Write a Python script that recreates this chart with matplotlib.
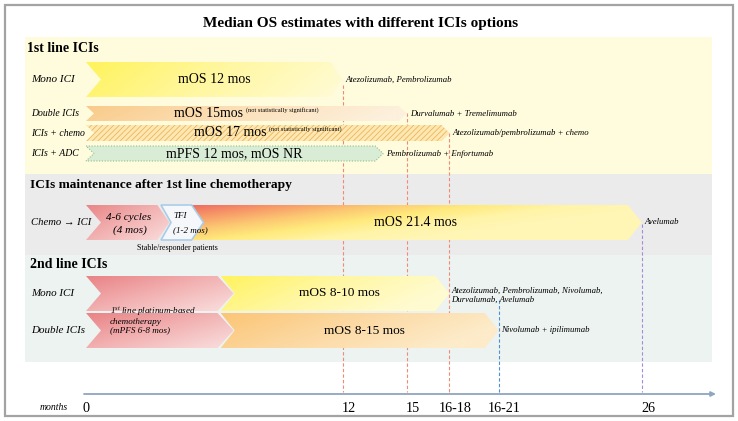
import numpy as np
import matplotlib
matplotlib.use("Agg")
import matplotlib.pyplot as plt
from matplotlib.patches import Rectangle, PathPatch
from matplotlib.path import Path
from matplotlib.colors import LinearSegmentedColormap
from matplotlib.offsetbox import TextArea, HPacker, AnnotationBbox

plt.rcParams['font.family'] = ['Liberation Serif', 'DejaVu Serif']
plt.rcParams['mathtext.fontset'] = 'custom'
plt.rcParams['mathtext.rm'] = 'Liberation Serif'
plt.rcParams['mathtext.it'] = 'Liberation Serif:italic'
plt.rcParams['hatch.linewidth'] = 0.6

# ---------------- data ----------------
title = "Median OS estimates with different ICIs options"

first_line_rows = ["Mono ICI", "Double ICIs", "ICIs + chemo", "ICIs + ADC"]
first_line_end = [12, 15, 17, 13.9]          # months
first_line_main = ["mOS 12 mos", "mOS 15mos", "mOS 17 mos", "mPFS 12 mos, mOS NR"]
first_line_note = ["", "(not statistically significant)", "(not statistically significant)", ""]
first_line_drugs = ["Atezolizumab, Pembrolizumab", "Durvalumab + Tremelimumab",
                    "Atezolizumab/pembrolizumab + chemo", "Pembrolizumab + Enfortumab"]

maint_label = "Chemo \u2192 ICI"
maint_chemo_end = 3.9      # months (4-6 cycles)
maint_tfi_end = 5.5        # months (TFI 1-2 mos)
maint_os_start = 4.8
maint_os_end = 26
maint_main = "mOS 21.4 mos"
maint_drug = "Avelumab"

second_line_rows = ["Mono ICI", "Double ICIs"]
second_chemo_end = 6.9     # months (mPFS 6-8 mos)
second_ici_start = 6.3
second_end = [17, 19.3]
second_main = ["mOS 8-10 mos", "mOS 8-15 mos"]
second_drugs = ["Atezolizumab, Pembrolizumab, Nivolumab,\nDurvalumab, Avelumab", "Nivolumab + ipilimumab"]

tick_pos = [0, 12, 15, 17, 19.3, 26]
tick_labels = ["0", "12", "15", "16-18", "16-21", "26"]

# ---------------- layout ----------------
W, H = 738, 421
PX0, PPM = 86.0, 21.38   # pixel of month 0, pixels per month


def mx(px):
    """layout pixel -> month units"""
    return (px - PX0) / PPM


fig = plt.figure(figsize=(W / 100, H / 100), dpi=100)
ax = fig.add_axes([0, 0, 1, 1])
ax.set_axis_off()


def chev_path(x0, x1, y0, y1, notch=8, tip=8):
    ym = (y0 + y1) / 2
    n, t = notch / PPM, tip / PPM
    verts = [(x0, y0), (x1 - t, y0), (x1, ym), (x1 - t, y1), (x0, y1), (x0 + n, ym), (x0, y0)]
    return Path(verts, closed=True)


def grad_chev(x0, x1, y0, y1, colors, wx=1.0, wy=0.0, notch=8, tip=8, z=2):
    path = chev_path(x0, x1, y0, y1, notch, tip)
    patch = PathPatch(path, fc='none', ec='none', zorder=z)
    ax.add_patch(patch)
    cmap = LinearSegmentedColormap.from_list('g', colors)
    xs = np.linspace(0, 1, 200)
    ys = np.linspace(0, 1, 50)
    XX, YY = np.meshgrid(xs, ys)
    val = np.clip(wx * XX + wy * YY, 0, 1)
    im = ax.imshow(val, cmap=cmap, vmin=0, vmax=1, extent=(x0, x1, y1, y0),
                   aspect='auto', interpolation='bilinear', zorder=z, origin='upper')
    im.set_clip_path(patch)
    return patch


def flat_chev(x0, x1, y0, y1, fc, ec='none', lw=0, ls='-', hatch=None, notch=8, tip=8, z=2):
    p = PathPatch(chev_path(x0, x1, y0, y1, notch, tip), fc=fc, ec=ec, lw=lw, ls=ls,
                  hatch=hatch, zorder=z)
    ax.add_patch(p)
    return p


def text_with_note(xc, yc, main, note, size=10, note_size=4.6):
    if not note:
        ax.text(xc, yc, main, ha='center', va='center', fontsize=size, zorder=5)
        return
    t1 = TextArea(main, textprops=dict(fontsize=size))
    t2 = TextArea(note, textprops=dict(fontsize=note_size))
    box = HPacker(children=[t1, t2], align='top', pad=0, sep=2)
    ab = AnnotationBbox(box, (xc, yc), frameon=False, box_alignment=(0.5, 0.5), zorder=5, pad=0)
    ax.add_artist(ab)


# frame
ax.add_patch(Rectangle((mx(5), 5), mx(733) - mx(5), 411, fill=False, ec='#a3a3a3', lw=1.6, zorder=6))

# bands
band_x0, band_x1 = mx(25), mx(712)
ax.add_patch(Rectangle((band_x0, 37), band_x1 - band_x0, 137, fc='#fffbdd', ec='none', zorder=0))
ax.add_patch(Rectangle((band_x0, 174), band_x1 - band_x0, 81, fc='#ebebec', ec='none', zorder=0))
ax.add_patch(Rectangle((band_x0, 255), band_x1 - band_x0, 107, fc='#ecf3f1', ec='none', zorder=0))

# title & headings
ax.text(mx(361), 23, title, ha='center', va='center', fontsize=11, fontweight='bold')
ax.text(mx(27), 48, "1st line ICIs", ha='left', va='center', fontsize=10, fontweight='bold')
ax.text(mx(30), 185, "ICIs maintenance after 1st line chemotherapy", ha='left', va='center',
        fontsize=9.6, fontweight='bold')
ax.text(mx(30), 265, "2nd line ICIs", ha='left', va='center', fontsize=10, fontweight='bold')

# ---- 1st line rows ----
rows1_y = [(62, 97), (106, 121), (125, 141), (146, 161)]
row_label_size = [8, 7, 7, 7]
for i, (lab, end, main, note, drug) in enumerate(zip(first_line_rows, first_line_end, first_line_main,
                                                        first_line_note, first_line_drugs)):
    y0, y1 = rows1_y[i]
    ym = (y0 + y1) / 2
    big = (y1 - y0) > 20
    nt = 15 if big else 8
    if i == 0:
        grad_chev(0, end, y0, y1, ['#fff35c', '#fff7a0', '#fffbd2'], wx=0.9, wy=0.15, notch=nt, tip=12)
    elif i == 1:
        grad_chev(0, end, y0, y1, ['#f9cb8a', '#fce0b8', '#fdf0dc'], wx=1.0, wy=0.1, notch=nt, tip=8)
    elif i == 2:
        flat_chev(0, end, y0, y1, fc='#fde8b4', ec='#eeb558', lw=0, hatch='//////', notch=nt, tip=8)
    else:
        flat_chev(0, end, y0, y1, fc='#d9ecd5', ec='#8fc08b', lw=0.8, ls=(0, (1, 1.5)), notch=nt, tip=8)
    ax.text(mx(31), ym, lab, ha='left', va='center', fontsize=row_label_size[i], style='italic')
    text_with_note(end / 2, ym, main, note, size=10)
    ax.text(end + 3 / PPM, ym, drug, ha='left', va='center', fontsize=6.3, style='italic')

# ---- maintenance ----
my0, my1 = 205, 240
mym = (my0 + my1) / 2
grad_chev(maint_os_start, maint_os_end, my0, my1,
          ['#ee6b62', '#f79a68', '#fcc872', '#ffea7c', '#fff4a6', '#fff6b5'],
          wx=0.95, wy=0.55, notch=0.01, tip=14)
grad_chev(0, maint_chemo_end, my0, my1, ['#e98587', '#f2b0b0', '#f8d6d5'], wx=0.6, wy=0.5, notch=15, tip=12, z=3)
flat_chev(mx(161), maint_tfi_end, my0, my1, fc='#f5f7fa', ec='#a9cde9', lw=1.2, notch=10, tip=12, z=4)
ax.text(mx(31), mym, maint_label, ha='left', va='center', fontsize=7.7, style='italic')
ax.text(mx(129), 217, "4-6 cycles", ha='center', va='center', fontsize=8, style='italic', zorder=5)
ax.text(mx(130), 230, "(4 mos)", ha='center', va='center', fontsize=8, style='italic', zorder=5)
ax.text(mx(173), 216, "TFI", ha='left', va='center', fontsize=6.5, style='italic', zorder=5)
ax.text(mx(173), 230, "(1-2 mos)", ha='left', va='center', fontsize=6.5, style='italic', zorder=5)
ax.text(mx(177), 248, "Stable/responder patients", ha='center', va='center', fontsize=5.8, zorder=5)
ax.text((maint_os_start + maint_os_end) / 2, mym, maint_main, ha='center', va='center', fontsize=10, zorder=5)
ax.text(maint_os_end + 3 / PPM, mym - 1, maint_drug, ha='left', va='center', fontsize=6.3, style='italic')

# ---- 2nd line rows ----
rows2_y = [(276, 311), (313, 348)]
ici_colors = [['#fff35e', '#fff7a3', '#fffbd0'], ['#fbc575', '#fcd9a3', '#fdebc9']]
drug_dy = [2, 0]
for i, (lab, end, main, drug) in enumerate(zip(second_line_rows, second_end, second_main, second_drugs)):
    y0, y1 = rows2_y[i]
    ym = (y0 + y1) / 2
    grad_chev(second_ici_start, end, y0, y1, ici_colors[i], wx=0.9, wy=0.3, notch=14, tip=14, z=2)
    grad_chev(0, second_chemo_end, y0, y1, ['#e98386', '#f2afb0', '#f8d8d7'], wx=0.6, wy=0.5,
              notch=15, tip=16, z=3)
    ax.text(mx(31), ym, lab, ha='left', va='center', fontsize=7.9, style='italic')
    ax.text((second_ici_start + end) / 2 + 0.2, ym, main, ha='center', va='center', fontsize=9.6, zorder=5)
    ax.text(end + 2 / PPM, ym + drug_dy[i], drug, ha='left', va='center', fontsize=6.3,
            style='italic', linespacing=1.2)
ax.text(mx(110), 320, "1$^{st}$ line platinum-based\nchemotherapy\n(mPFS 6-8 mos)", ha='left', va='center',
        fontsize=6.6, style='italic', linespacing=1.05, zorder=5)

# ---- dashed guide lines ----
guide_pos = [12, 15, 17, 19.3, 26]
guide_top = [85, 113, 133, 300, 224]
guide_col = ['#f28a72', '#f28a72', '#f28a72', '#4f8fd0', '#a58bd8']
for gx, gt, gc in zip(guide_pos, guide_top, guide_col):
    ax.plot([gx, gx], [gt, 392], color=gc, lw=0.8, ls=(0, (3, 2)), zorder=1)

# ---- time axis ----
ax.annotate('', xy=(mx(716), 394), xytext=(mx(84), 394),
            arrowprops=dict(arrowstyle='-|>', color='#8fa6be', lw=1.3, mutation_scale=7, shrinkA=0, shrinkB=0))
label_shift = 6 / PPM
for tp, tl in zip(tick_pos, tick_labels):
    if tl == '0':
        ax.text(tp - 3.5 / PPM, 408, tl, ha='left', va='center', fontsize=10.2)
    else:
        ax.text(tp + label_shift, 408, tl, ha='center', va='center', fontsize=10.2)
ax.text(mx(54), 407, "months", ha='center', va='center', fontsize=7, style='italic')

ax.set_xlim(mx(0), mx(W))
ax.set_ylim(H, 0)
fig.savefig("out.png", dpi=100)
